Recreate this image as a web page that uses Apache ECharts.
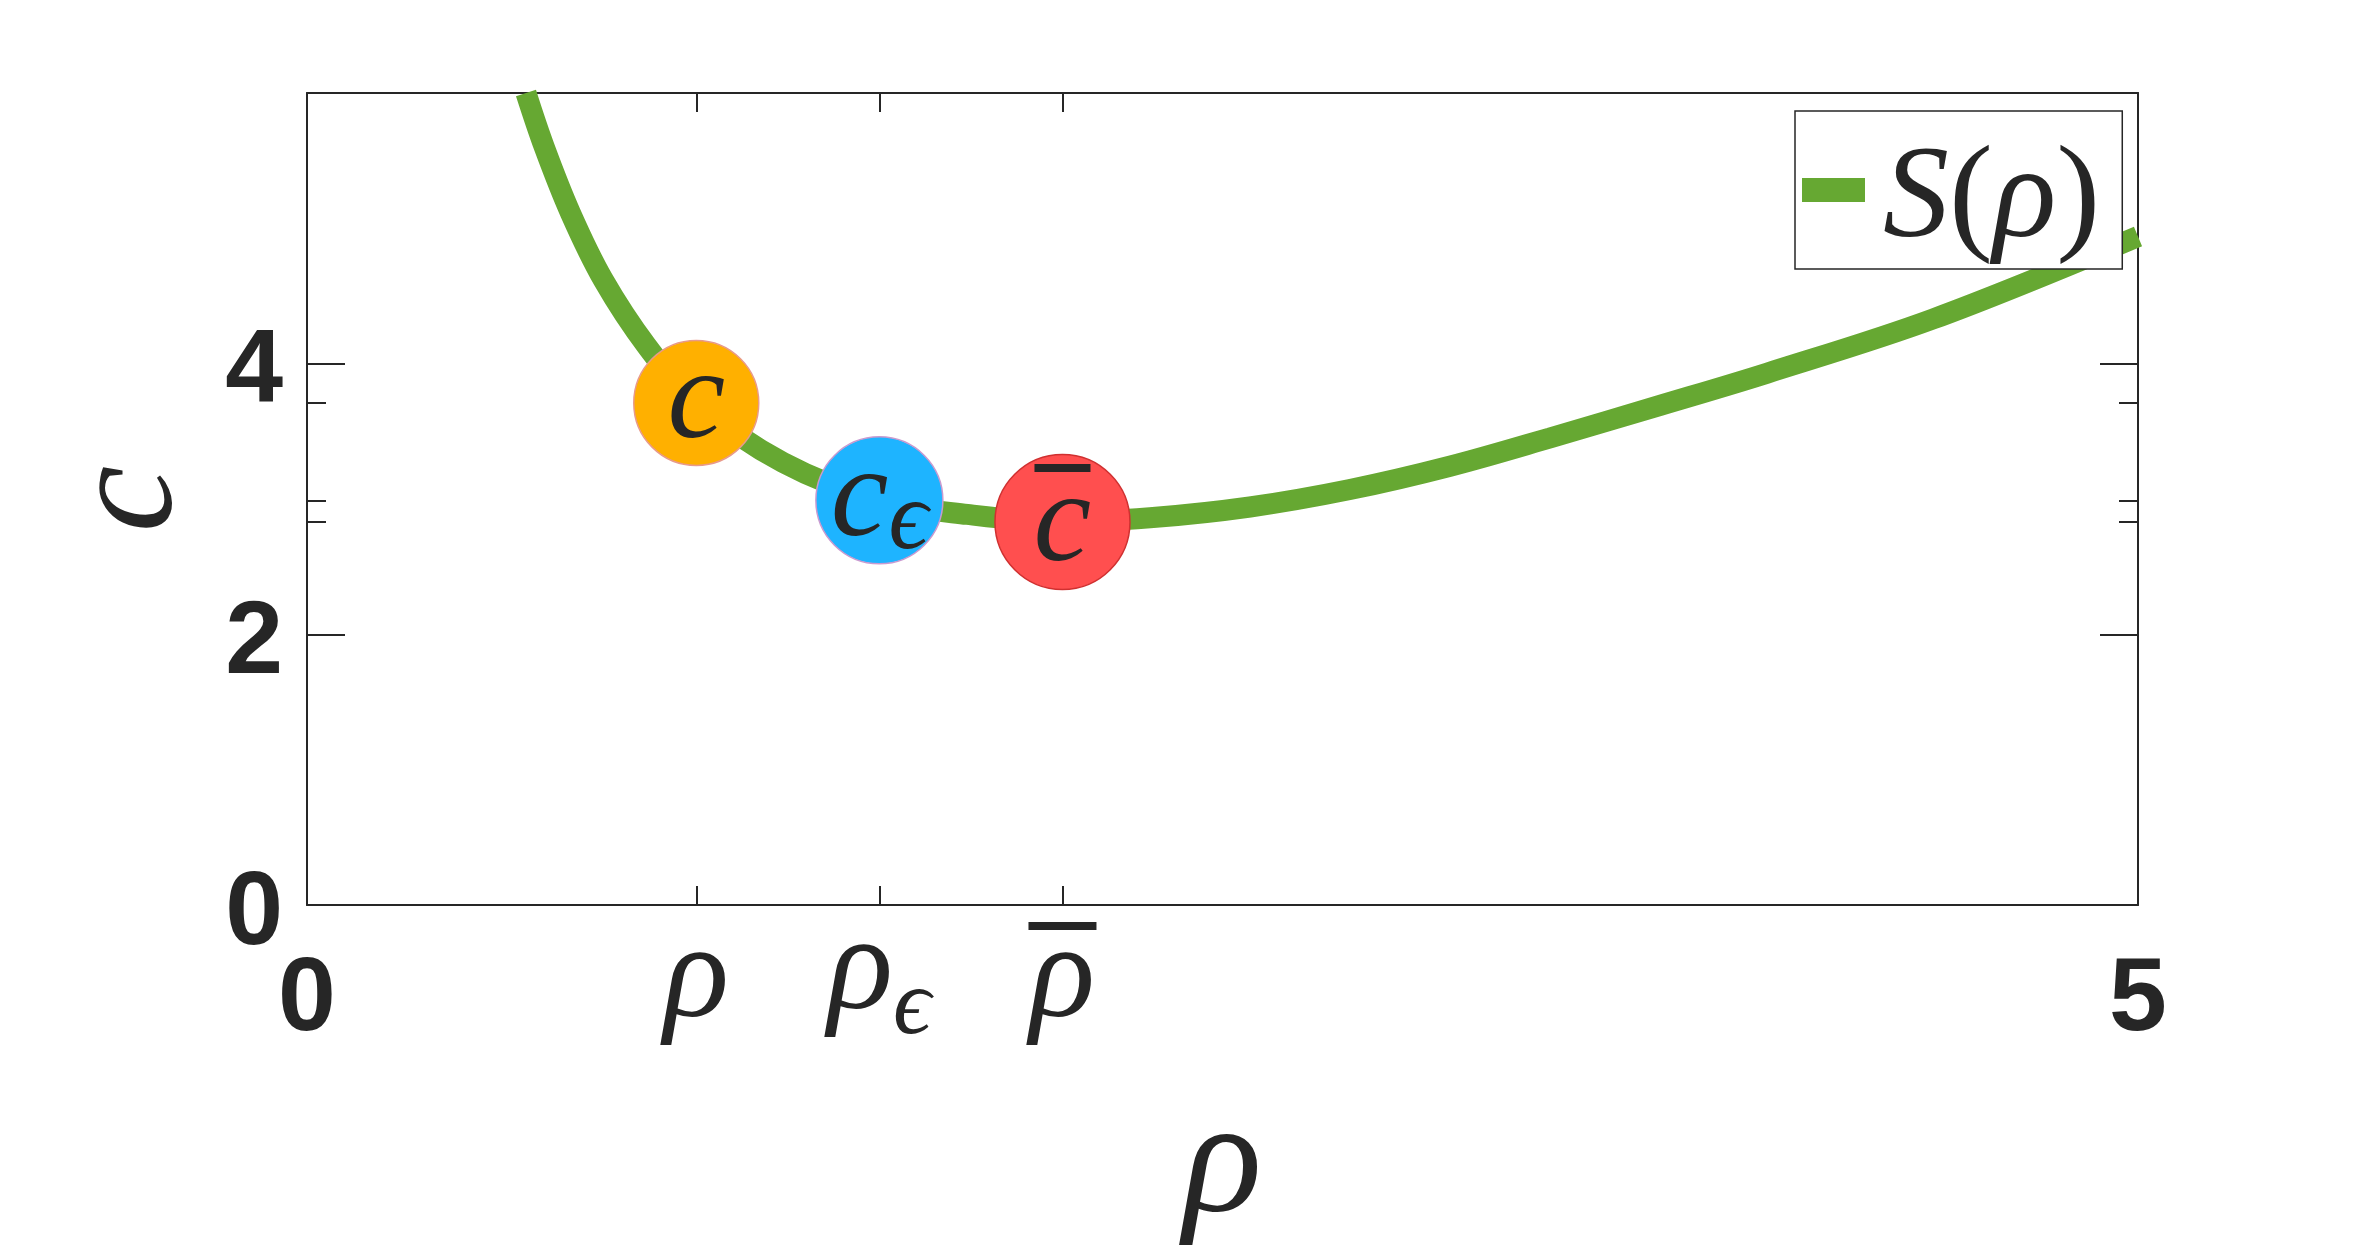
<!DOCTYPE html>
<html>
<head>
<meta charset="utf-8">
<script src="https://cdn.jsdelivr.net/npm/echarts@6/dist/echarts.min.js"></script>
<style>
  html, body { margin: 0; padding: 0; background: #fff; }
  #chart { width: 2363px; height: 1254px; }
</style>
</head>
<body>
<div id="chart"></div>
<script>
  // S(rho) curve
  var rho = [0.598, 0.648, 0.72, 0.809, 0.928, 1.063, 1.3, 1.563, 1.803, 2.063, 2.302, 2.575, 2.848, 3.121, 3.394, 3.695, 3.987, 4.44, 5.0];
  var S = [6.0, 5.6, 5.11, 4.62, 4.13, 3.71, 3.27, 2.99, 2.886, 2.83, 2.861, 2.941, 3.07, 3.242, 3.451, 3.692, 3.93, 4.33, 4.94];

  // marked points: rho, rho_eps, rho_bar and c, c_eps, c_bar
  var markRho = [1.063, 1.563, 2.063];
  var markC = [3.71, 2.99, 2.83];
  var markColors = ["#ffb000", "#1eb4ff", "#ff4f4f"];
  var markBorders = ["#e89a8a", "#c99ad0", "#d03030"];

  // tick labels
  var xLabelValues = [0, 1.063, 1.563, 2.063, 5];
  var xLabelTexts = ["{gap| }\n{n|0}", "{gap| }\n{r|ρ}", "{gap| }\n{r2|ρ}{s|ϵ}", "{bar| }\n{r|ρ}", "{gap| }\n{n|5}"];
  var yMajor = [0, 2, 4];

  var ink = "#262626";
  var green = "#66a832";
  var serif = "Liberation Serif, DejaVu Serif, serif";
  var sans = "Liberation Sans, Arial, sans-serif";

  var curve = rho.map(function(x, i) { return [x, S[i]]; });
  var marks = markRho.map(function(x, i) {
    return {
      value: [x, markC[i]],
      symbolSize: [125, 127, 135][i],
      itemStyle: { color: markColors[i], borderColor: markBorders[i], borderWidth: 1.5, opacity: 1 },
      label: { offset: [0, [0, 0, 8][i]] }
    };
  });

  function ticks(vals, len, showLine) {
    return {
      axisLine: { show: showLine, onZero: false, lineStyle: { color: ink, width: 2 } },
      axisTick: { show: true, inside: true, length: len, customValues: vals, lineStyle: { color: ink, width: 2 } },
      splitLine: { show: false }
    };
  }

  function yAxis(pos, vals, len, showLine, extra) {
    var a = Object.assign({ type: "value", position: pos, min: 0, max: 6, axisLabel: { show: false } }, ticks(vals, len, showLine));
    return Object.assign(a, extra || {});
  }

  var myChart = echarts.init(document.getElementById("chart"));
  myChart.setOption({
    animation: false,
    backgroundColor: "#fff",
    grid: { left: 307, right: 225, top: 93, bottom: 348, containLabel: false },
    legend: {
      left: 1795,
      top: 111,
      padding: [2, 22, 2, 7],
      backgroundColor: "#fff",
      borderColor: ink,
      borderWidth: 1.5,
      borderRadius: 0,
      icon: "rect",
      itemWidth: 63,
      itemHeight: 24,
      data: [{ name: "S", itemStyle: { color: green, borderWidth: 0 } }],
      formatter: function() { return "{sp| }{i|S}{u|(}{i|ρ}{u|)}"; },
      textStyle: {
        rich: {
          sp: { width: 13 },
          i: { fontFamily: serif, fontStyle: "italic", fontSize: 132, lineHeight: 124, padding: [22, 0, 0, 0], color: ink },
          u: { fontFamily: serif, fontSize: 132, lineHeight: 124, padding: [22, 0, 0, 0], color: ink }
        }
      }
    },
    xAxis: [
      Object.assign({
        type: "value", position: "bottom", min: 0, max: 5,
        name: "ρ", nameLocation: "middle", nameGap: 180,
        nameTextStyle: { fontFamily: serif, fontStyle: "italic", fontSize: 164, color: ink },
        axisLabel: {
          customValues: xLabelValues,
          margin: 17,
          formatter: function(v) {
            for (var i = 0; i < xLabelValues.length; i++) {
              if (Math.abs(v - xLabelValues[i]) < 1e-6) return xLabelTexts[i];
            }
            return "";
          },
          rich: {
            gap: { height: 8 },
            bar: { width: 68, height: 8, backgroundColor: ink },
            n: { fontFamily: sans, fontWeight: "bold", fontSize: 104, lineHeight: 100, padding: [42, 0, 0, 0], color: ink },
            r: { fontFamily: serif, fontStyle: "italic", fontSize: 136, lineHeight: 100, color: ink },
            r2: { fontFamily: serif, fontStyle: "italic", fontSize: 136, lineHeight: 100, padding: [0, 0, 16, 0], color: ink },
            s: { fontFamily: serif, fontStyle: "italic", fontSize: 94, lineHeight: 100, padding: [57, 0, 0, 0], color: ink }
          }
        }
      }, ticks(markRho, 19, true)),
      Object.assign({ type: "value", position: "top", min: 0, max: 5, axisLabel: { show: false } }, ticks(markRho, 19, true))
    ],
    yAxis: [
      yAxis("left", yMajor, 38, true, {
        name: "c", nameLocation: "middle", nameGap: 100, nameRotate: 90,
        nameTextStyle: { fontFamily: serif, fontStyle: "italic", fontSize: 150, color: ink },
        axisLabel: {
          show: true, customValues: yMajor, margin: 24,
          formatter: function(v) { return "{n|" + v + "}"; },
          rich: { n: { fontFamily: sans, fontWeight: "bold", fontSize: 104, padding: [20, 0, 0, 0], color: ink } }
        }
      }),
      yAxis("left", markC, 19, false),
      yAxis("right", yMajor, 38, true),
      yAxis("right", markC, 19, false)
    ],
    series: [
      {
        name: "S",
        type: "line",
        data: curve,
        smooth: 0.35,
        showSymbol: false,
        clip: true,
        itemStyle: { color: green },
        lineStyle: { color: green, width: 21 },
        z: 2
      },
      {
        name: "marks",
        type: "scatter",
        data: marks,
        z: 3,
        label: {
          show: true,
          position: "inside",
          formatter: function(p) {
            return ["{c|c}", "{c|c}{s|ϵ}", "{bar| }\n{c2|c}"][p.dataIndex];
          },
          rich: {
            c: { fontFamily: serif, fontStyle: "italic", fontSize: 130, color: ink },
            c2: { fontFamily: serif, fontStyle: "italic", fontSize: 130, lineHeight: 108, color: ink },
            s: { fontFamily: serif, fontStyle: "italic", fontSize: 98, padding: [44, 0, 0, 0], color: ink },
            bar: { width: 56, height: 8, backgroundColor: ink }
          }
        },
        labelLayout: { hideOverlap: false }
      }
    ]
  });
</script>
</body>
</html>
